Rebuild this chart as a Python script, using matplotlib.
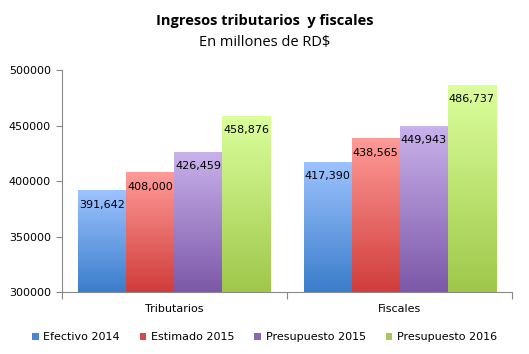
import numpy as np
import matplotlib.pyplot as plt
from matplotlib.colors import LinearSegmentedColormap
from matplotlib.patches import Patch

categories = ["Tributarios", "Fiscales"]
series = ["Efectivo 2014", "Estimado 2015", "Presupuesto 2015", "Presupuesto 2016"]
efectivo_2014 = [391642, 417390]
estimado_2015 = [408000, 438565]
presupuesto_2015 = [426459, 449943]
presupuesto_2016 = [458876, 486737]
values = [efectivo_2014, estimado_2015, presupuesto_2015, presupuesto_2016]

# (top colour, bottom colour) for each series
gradients = [
    ("#9dc3ff", "#3b7dcc"),
    ("#ff9b98", "#d03d3b"),
    ("#c9b2ec", "#7c58a8"),
    ("#dcff9c", "#9fc74a"),
]
legend_colors = ["#4a86d0", "#d44a48", "#8a66b4", "#a4c958"]

fig = plt.figure(figsize=(5.29, 3.54), dpi=100)
ax = fig.add_axes([0.117, 0.175, 0.851, 0.627])

bottom = 300000
width = 0.2133
x = np.arange(len(categories))
grad = np.linspace(0, 1, 256).reshape(-1, 1)

for i, (vals, (top_c, bot_c)) in enumerate(zip(values, gradients)):
    pos = x + (i - 1.5) * width
    bars = ax.bar(pos, np.array(vals) - bottom, width, bottom=bottom,
                  color="none", edgecolor="none")
    cmap = LinearSegmentedColormap.from_list("g%d" % i, [bot_c, top_c])
    for bar, v in zip(bars, vals):
        x0 = bar.get_x()
        im = ax.imshow(grad, cmap=cmap, origin="lower", aspect="auto",
                       extent=[x0, x0 + bar.get_width(), bottom, v],
                       zorder=2)
        im.set_clip_path(bar)
        ax.text(bar.get_x() + bar.get_width() / 2, v - 8500, f"{v:,}",
                ha="center", va="top", fontsize=8, color="black", zorder=3)

ax.set_xlim(-0.5, 1.5)
ax.set_ylim(300000, 500000)
ax.set_yticks(range(300000, 500001, 50000))
ax.set_yticklabels([str(t) for t in range(300000, 500001, 50000)], fontsize=8)
ax.set_xticks([-0.5, 0.5, 1.5])
ax.set_xticklabels([])
ax.tick_params(axis="x", length=5, color="#888888")
ax.tick_params(axis="y", length=4, color="#888888", pad=4)
for i, c in enumerate(categories):
    ax.text(x[i], 300000 - 15000, c, ha="center", va="center", fontsize=8)

for s in ["top", "right"]:
    ax.spines[s].set_visible(False)
for s in ["left", "bottom"]:
    ax.spines[s].set_color("#888888")

fig.text(0.5, 0.94, "Ingresos tributarios  y fiscales", ha="center", va="center",
         fontsize=10.5, fontweight="bold", family="Open Sans")
fig.text(0.5, 0.88, "En millones de RD$", ha="center", va="center",
         fontsize=10.5, family="Open Sans")

handles = [Patch(facecolor=c, edgecolor="none") for c in legend_colors]
fig.legend(handles, series, loc="center", bbox_to_anchor=(0.5, 0.048), ncol=4,
           frameon=False, fontsize=8, handlelength=0.6, handleheight=0.6,
           handletextpad=0.4, columnspacing=1.8)

fig.savefig("out.png", dpi=100)
